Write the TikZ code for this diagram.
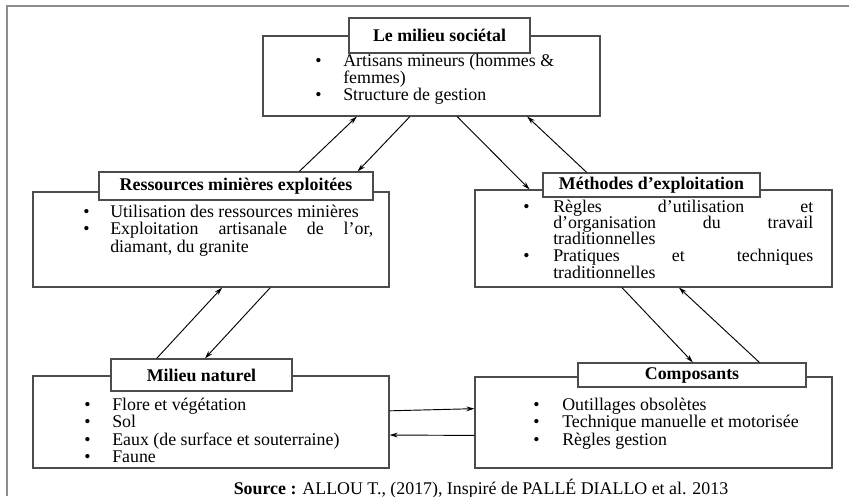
\documentclass[tikz,border=0pt]{standalone}
\usepackage{fontspec}
\setmainfont{Liberation Serif}
\usetikzlibrary{arrows.meta,calc,fit}

\def\px{0.75pt}
\newcommand{\puces}[3]{\begin{tabular}[t]{@{}p{#1}@{}p{#2}@{}}#3\end{tabular}}

\begin{document}
\begin{tikzpicture}[x=0.75pt,y=-0.75pt,
  corps/.style={draw=black!70, line width=0.9pt, inner sep=0pt},
  titre/.style={draw=black!70, line width=0.9pt, fill=white, inner sep=0pt,
    font=\fontsize{13.4}{14}\selectfont\bfseries},
  liste/.style={anchor=base west, inner sep=0pt, font=\fontsize{13.4}{12.75}\selectfont},
  fleche/.style={-{Stealth[length=6pt,width=3.6pt]}, line width=0.7pt}]
\useasboundingbox (0,0) rectangle (849,496);

% Frame
\draw[black!45, line width=1.1pt] (7,496) -- (7,6) -- (849,6);

% Boxes
\node[corps, fit={(263,36) (600,116)}] (soc) {};
\node[corps, fit={(33,192) (389,287)}] (res) {};
\node[corps, fit={(475,190) (832,287)}] (meth) {};
\node[corps, fit={(33,376) (389,468)}] (nat) {};
\node[corps, fit={(475,377) (832,468)}] (comp) {};

% Titles
\node[titre, minimum width=181*\px, minimum height=35*\px] (tsoc) at (439.5,35.5) {Le milieu sociétal};
\node[titre, minimum width=274*\px, minimum height=28*\px] (tres) at (236,186) {Ressources minières exploitées};
\node[titre, minimum width=217*\px, minimum height=24*\px] (tmeth) at (651.5,185) {Méthodes d’exploitation};
\node[titre, minimum width=181*\px, minimum height=32*\px] (tnat) at (201.5,375) {Milieu naturel};
\node[titre, minimum width=228*\px, minimum height=24*\px] (tcomp) at (692,375) {Composants};

% Lists
\node[liste] (lsoc) at (315,66) {\puces{21pt}{172.5pt}{%
  \textbullet & Artisans mineurs (hommes \&\newline femmes)\\
  \textbullet & Structure de gestion}};
\node[liste, font=\fontsize{13.4}{13.1}\selectfont] (lres) at (83,217) {\puces{20.25pt}{197.25pt}{%
  \textbullet & Utilisation des ressources minières\\
  \textbullet & Exploitation \hfill artisanale \hfill de \hfill l’or,\newline diamant, du granite}};
\node[liste, font=\fontsize{13.4}{12.2}\selectfont] (lmeth) at (523,212) {\puces{22.5pt}{195pt}{%
  \textbullet & Règles \hfill d’utilisation \hfill et\newline
    d’organisation \hfill du \hfill travail\newline traditionnelles\\
  \textbullet & Pratiques \hfill et \hfill techniques\newline traditionnelles}};
\node[liste] (lnat) at (84,410) {\puces{21pt}{180pt}{%
  \textbullet & Flore et végétation\\
  \textbullet & Sol\\
  \textbullet & Eaux (de surface et souterraine)\\
  \textbullet & Faune}};
\node[liste] (lcomp) at (533,410) {\puces{21.75pt}{195pt}{%
  \textbullet & Outillages obsolètes\\
  \textbullet & Technique manuelle et motorisée\\
  \textbullet & Règles gestion}};

% Arrows
\draw[fleche] ($(tres.north west)!0.73!(tres.north east)$) -- ($(soc.south west)!0.279!(soc.south east)$);
\draw[fleche] ($(soc.south west)!0.436!(soc.south east)$) -- ($(tres.north west)!0.942!(tres.north east)$);
\draw[fleche] ($(soc.south west)!0.576!(soc.south east)$) -- ($(meth.north west)!0.154!(meth.north east)$);
\draw[fleche] ($(tmeth.north west)!0.203!(tmeth.north east)$) -- ($(soc.south west)!0.783!(soc.south east)$);
\draw[fleche] ($(tnat.north west)!0.254!(tnat.north east)$) -- ($(res.south west)!0.531!(res.south east)$);
\draw[fleche] ($(res.south west)!0.666!(res.south east)$) -- ($(tnat.north west)!0.519!(tnat.north east)$);
\draw[fleche] ($(meth.south west)!0.412!(meth.south east)$) -- ($(tcomp.north west)!0.504!(tcomp.north east)$);
\draw[fleche] ($(tcomp.north west)!0.794!(tcomp.north east)$) -- ($(meth.south west)!0.571!(meth.south east)$);
\draw[fleche] ($(nat.north east)!0.38!(nat.south east)$) -- ($(comp.north west)!0.35!(comp.south west)$);
\draw[fleche] ($(comp.north west)!0.64!(comp.south west)$) -- ($(nat.north east)!0.64!(nat.south east)$);

% Source
\node[anchor=base, inner sep=0pt, font=\fontsize{13.4}{14}\selectfont] (source) at (481,494)
  {\textbf{Source :} ALLOU T., (2017), Inspiré de PALLÉ DIALLO et al. 2013};
\end{tikzpicture}
\end{document}
